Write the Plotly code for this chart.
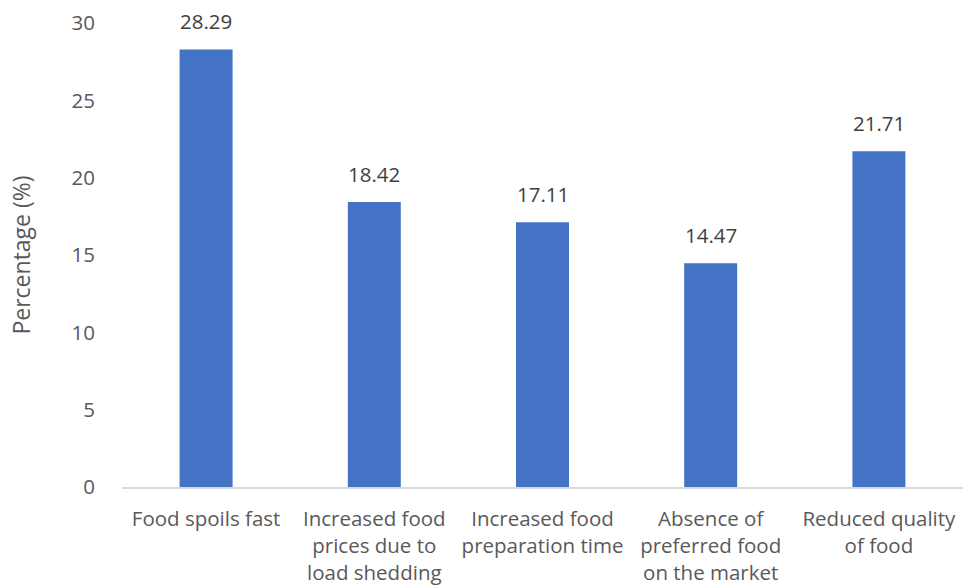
import plotly.graph_objects as go

categories = [
    "Food spoils fast",
    "Increased food<br>prices due to<br>load shedding",
    "Increased food<br>preparation time",
    "Absence of<br>preferred food<br>on the market",
    "Reduced quality<br>of food",
]
percentages = [28.29, 18.42, 17.11, 14.47, 21.71]
y_ticks = [0, 5, 10, 15, 20, 25, 30]

FONT = "Open Sans"
SIZE = 20.5
fig = go.Figure(
    go.Bar(
        x=categories,
        y=percentages,
        marker=dict(color="#4472C4", line=dict(width=0)),
    )
)

# value labels above each bar
for cat, val in zip(categories, percentages):
    fig.add_annotation(
        x=cat,
        y=val,
        text=f"{val:.2f}",
        showarrow=False,
        yanchor="bottom",
        yshift=12,
        font=dict(family=FONT, size=SIZE, color="#404040"),
    )

fig.update_layout(
    width=963,
    height=586,
    margin=dict(l=122, r=0, t=23, b=99),
    paper_bgcolor="white",
    plot_bgcolor="white",
    bargap=0.685,
    showlegend=False,
    font=dict(family=FONT, size=SIZE, color="#595959"),
)
fig.update_yaxes(
    range=[0, 30],
    tickvals=y_ticks,
    showgrid=False,
    zeroline=False,
    showline=False,
    ticks="",
    ticklabelstandoff=26,
    title=dict(text="Percentage (%)", font=dict(family=FONT, size=23, color="#595959"), standoff=34),
)
fig.update_xaxes(
    showgrid=False,
    showline=True,
    linecolor="#D9D9D9",
    linewidth=1.5,
    ticks="",
    tickangle=0,
    ticklabelstandoff=13,
)

fig.write_html("out.html")
